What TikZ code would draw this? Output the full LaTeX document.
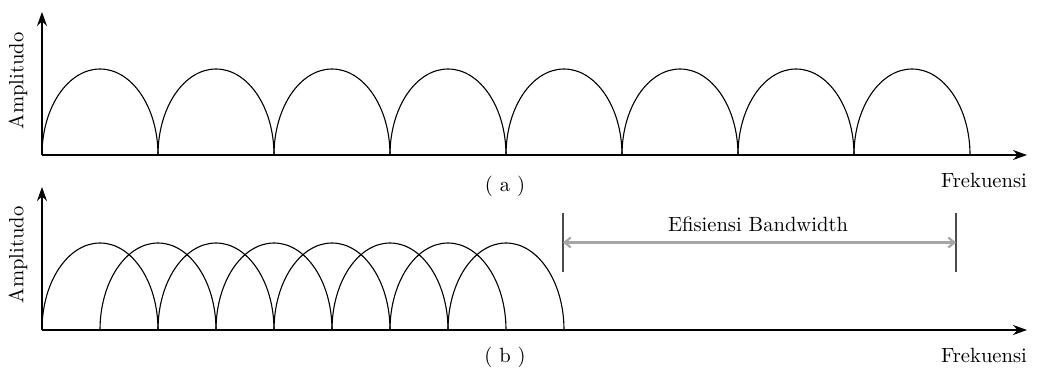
\documentclass[tikz,border=0pt]{standalone}
\usepackage{amsmath}
\usepackage{xcolor}
\usepackage{tikz}
\usetikzlibrary{arrows.meta,positioning,calc}

\begin{document}
\begin{tikzpicture}[
    x=0.5pt, y=0.5pt,
    ax/.style={-{Stealth[length=7pt, width=5pt]}, line width=0.7pt, draw=black},
    lobe/.style={line width=0.55pt, draw=black},
    tick/.style={line width=0.6pt, draw=black!70},
    bw/.style={{Straight Barb[length=3pt, width=5pt]}-{Straight Barb[length=3pt, width=5pt]}, line width=1.1pt, draw=black!35},
    lbl/.style={font=\fontsize{10.3}{12}\selectfont, inner sep=0pt}
]
    \useasboundingbox (0,0) rectangle (1038,370);

    % panel (a)
    \coordinate (oa) at (42,215);
    \coordinate (ya) at (42,358);
    \coordinate (xa) at (1027,215);
    \foreach \k in {0,...,7}
        \draw [lobe] ($(oa)+(116*\k,0)$) arc [start angle=180, end angle=0, x radius=58, y radius=86];
    \draw [ax] (oa) -- (ya);
    \draw [ax] (oa) -- (xa);
    \node [lbl, rotate=90] (ampa) at (18,289) {Amplitudo};
    \node [lbl] (fa) at (984,190) {Frekuensi};
    \node [lbl] (capa) at (505,184) {( a )};

    % panel (b)
    \coordinate (ob) at (42,40);
    \coordinate (yb) at (42,183);
    \coordinate (xb) at (1027,40);
    \foreach \k in {0,...,7}
        \draw [lobe] ($(ob)+(58*\k,0)$) arc [start angle=180, end angle=0, x radius=58, y radius=87];
    \draw [ax] (ob) -- (yb);
    \draw [ax] (ob) -- (xb);
    \node [lbl, rotate=90] (ampb) at (18,115) {Amplitudo};
    \node [lbl] (fb) at (984,15) {Frekuensi};
    \node [lbl] (capb) at (505,13) {( b )};

    % bandwidth
    \coordinate (l1) at (563,157);
    \coordinate (l2) at (563,98);
    \coordinate (r1) at (956,157);
    \coordinate (r2) at (956,98);
    \draw [tick] (l1) -- (l2);
    \draw [tick] (r1) -- (r2);
    \draw [bw] ($(l1)!0.5!(l2)$) -- ($(r1)!0.5!(r2)$);
    \node [lbl] (eff) at (758,146) {Efisiensi Bandwidth};
\end{tikzpicture}
\end{document}
